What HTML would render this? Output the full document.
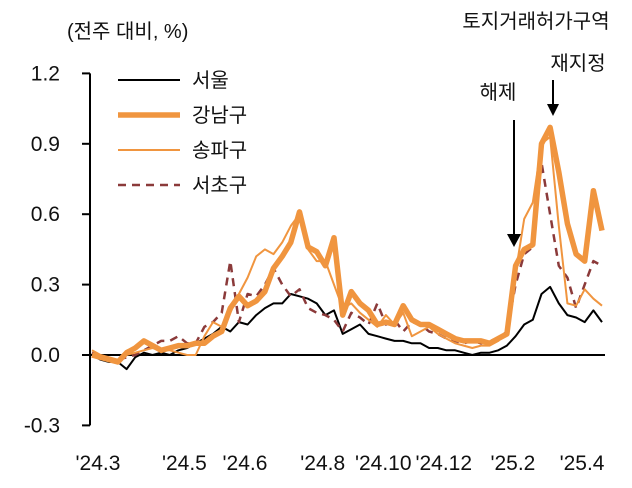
<!DOCTYPE html>
<html><head><meta charset="utf-8"><style>
body{margin:0;background:#fff}
svg text{font-family:"Liberation Sans","Noto Sans CJK KR",sans-serif;fill:#111}
</style></head><body>
<svg id="c" width="632" height="483"></svg>
<script>
const yTicks=[-0.3,0.0,0.3,0.6,0.9,1.2];
const yTickLabels=["-0.3","0.0","0.3","0.6","0.9","1.2"];
const xTickLabels=["'24.3","'24.5","'24.6","'24.8","'24.10","'24.12","'25.2","'25.4"];
const xTickIdx=[0,10,17,26,33,40,48,56];
const seriesNames=["서울","강남구","송파구","서초구"];
const seoul=[0.0,-0.02,-0.03,-0.03,-0.06,-0.01,0.01,0.0,0.01,0.0,0.02,0.03,0.05,0.07,0.09,0.12,0.10,0.14,0.13,0.17,0.20,0.22,0.22,0.26,0.25,0.24,0.22,0.17,0.19,0.09,0.11,0.13,0.09,0.08,0.07,0.06,0.06,0.05,0.05,0.03,0.03,0.02,0.02,0.01,0.0,0.01,0.01,0.02,0.04,0.08,0.13,0.15,0.26,0.29,0.22,0.17,0.16,0.14,0.19,0.14];
const gangnam=[0.0,-0.01,-0.02,-0.03,0.01,0.03,0.06,0.04,0.02,0.03,0.04,0.04,0.05,0.05,0.08,0.10,0.20,0.25,0.21,0.23,0.27,0.37,0.42,0.48,0.61,0.46,0.44,0.38,0.50,0.17,0.27,0.22,0.19,0.13,0.14,0.13,0.21,0.15,0.13,0.13,0.11,0.09,0.07,0.06,0.06,0.06,0.05,0.07,0.09,0.38,0.45,0.47,0.90,0.97,0.78,0.56,0.43,0.40,0.70,0.53];
const songpa=[0.02,0.0,-0.01,-0.02,0.0,0.01,0.02,0.03,0.02,0.02,0.01,0.0,0.0,0.08,0.14,0.12,0.18,0.26,0.33,0.42,0.45,0.43,0.48,0.55,0.60,0.45,0.40,0.40,0.30,0.20,0.22,0.18,0.15,0.12,0.17,0.13,0.18,0.08,0.10,0.12,0.09,0.07,0.05,0.04,0.03,0.04,0.04,0.06,0.10,0.35,0.58,0.65,0.90,0.93,0.55,0.22,0.21,0.28,0.24,0.21];
const seocho=[0.01,-0.01,-0.02,-0.02,-0.01,0.0,0.02,0.04,0.06,0.06,0.08,0.05,0.05,0.12,0.14,0.18,0.40,0.14,0.26,0.25,0.30,0.37,0.30,0.25,0.28,0.20,0.18,0.17,0.15,0.10,0.18,0.16,0.13,0.22,0.13,0.15,0.10,0.14,0.13,0.10,0.09,0.07,0.06,0.05,0.06,0.05,0.06,0.07,0.10,0.30,0.43,0.46,0.82,0.60,0.38,0.33,0.20,0.30,0.40,0.38];
const svg=document.getElementById('c');const NS='http://www.w3.org/2000/svg';
const N=seoul.length;
function xs(i){return 92+i*(510/(N-1));}
function ys(v){return 355-v*(70.4/0.3);}
function mk(t,a,name,parent){const e=document.createElementNS(NS,t);for(const k in a)e.setAttribute(k,a[k]);


(parent||svg).appendChild(e);return e;}
function txt(x,y,s,name,anchor,size){const t=mk('text',{x:x,y:y,'font-size':size||20,'text-anchor':anchor||'start'},name);t.textContent=s;return t;}
mk('line',{x1:90,y1:ys(1.2),x2:90,y2:ys(-0.3),stroke:'#000','stroke-width':2},'y-axis');
yTicks.forEach((v,k)=>{mk('line',{x1:82,y1:ys(v),x2:90,y2:ys(v),stroke:'#000','stroke-width':2},'y-tick');
txt(60,ys(v)+7,yTickLabels[k],'y-tick-label','end',21);});
mk('line',{x1:90,y1:ys(0),x2:605,y2:ys(0),stroke:'#000','stroke-width':2},'zero-line');
xTickLabels.forEach((s,k)=>txt(xs(xTickIdx[k])+6,470,s,'x-tick-label','middle',21));
function line(d,stroke,w,dash,name){const p=d.map((v,i)=>(i?'L':'M')+xs(i).toFixed(1)+','+ys(v).toFixed(1)).join('');
const a={d:p,fill:'none',stroke:stroke,'stroke-width':w,'stroke-linejoin':'round'};if(dash)a['stroke-dasharray']=dash;mk('path',a,name);}
line(seoul,'#000',2,null,'line-seoul');
line(seocho,'#8b3a3a',2.5,'8,6','line-seocho');
line(songpa,'#f0953f',2,null,'line-songpa');
line(gangnam,'#f0953f',5.5,null,'line-gangnam');
const legStyles=[['#000',2,null],['#f0953f',5.5,null],['#f0953f',2,null],['#8b3a3a',2.5,'8,6']];
seriesNames.forEach((n,k)=>{const y=80+k*35;const s=legStyles[k];const a={x1:118,y1:y,x2:180,y2:y,stroke:s[0],'stroke-width':s[1]};if(s[2])a['stroke-dasharray']=s[2];
mk('line',a,'legend-line');txt(192,y+7,n,'legend-label','start',20);});
txt(67,38,'(전주 대비, %)','y-axis-title','start',20);
txt(536,28,'토지거래허가구역','annotation-zone','middle',20);
txt(578,70,'재지정','annotation-redesignate','middle',20);
txt(498,99,'해제','annotation-release','middle',20);
mk('line',{x1:553,y1:80,x2:553,y2:106,stroke:'#000','stroke-width':2},'arrow-redesignate');
mk('path',{d:'M547,104 L559,104 L553,116 Z',fill:'#000'},'arrowhead-redesignate');
mk('line',{x1:514,y1:120,x2:514,y2:236,stroke:'#000','stroke-width':2},'arrow-release');
mk('path',{d:'M507,234 L521,234 L514,247 Z',fill:'#000'},'arrowhead-release');
</script>
</body></html>
